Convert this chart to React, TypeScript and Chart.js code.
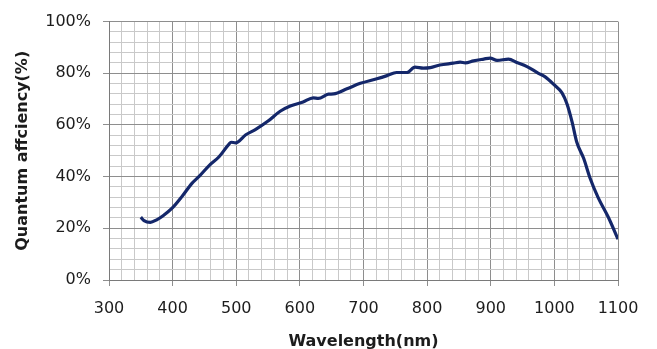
import React, { useEffect, useRef } from "react";
import { Chart, registerables } from "chart.js";

Chart.register(...registerables);

const wavelengths = [
  350, 355, 365, 375, 385, 400, 415, 430, 442, 457, 473, 488, 492, 499, 515, 530,
  550, 569, 585, 605, 621, 629, 645, 653, 674, 695, 721, 737, 752, 768, 781, 794,
  805, 820, 841, 852, 860, 873, 889, 899, 910, 928, 941, 957, 975, 985, 999, 1012,
  1020, 1028, 1035, 1046, 1056, 1069, 1085, 1100,
];
const efficiency = [
  24.3, 23.0, 22.3, 23.3, 24.9, 28.0, 32.4, 37.3, 40.2, 44.2, 47.7, 52.4, 53.3, 53.1, 56.2, 58.2,
  61.5, 65.3, 67.3, 68.9, 70.5, 70.3, 71.9, 72.0, 74.0, 76.1, 77.9, 79.1, 80.3, 80.3, 82.4, 82.0,
  82.2, 83.2, 83.9, 84.3, 84.0, 84.8, 85.5, 85.9, 85.0, 85.5, 84.2, 82.6, 80.0, 78.7, 75.7, 72.4,
  68.0, 61.0, 53.5, 47.1, 39.5, 31.8, 24.2, 15.8,
];
const xMin = 300;
const xMax = 1100;
const xMajor = 100;
const xMinor = 20;
const yMin = 0;
const yMax = 100;
const yMajor = 20;
const yMinor = 4;
const xTitle = "Wavelength(nm)";
const yTitle = "Quantum affciency(%)";

const MAJOR = "#8e8e8e";
const MINOR = "#c9c9c9";
const TEXT = "#1c1c1c";
const FONT = "'DejaVu Sans', sans-serif";

export default function App() {
  const ref = useRef<HTMLCanvasElement | null>(null);

  useEffect(() => {
    document.body.style.margin = "0";
    const canvas = ref.current;
    if (!canvas) return;
    const points = wavelengths.map((w, i) => ({ x: w, y: efficiency[i] }));
    const chart = new Chart(canvas, {
      type: "line",
      data: {
        datasets: [
          {
            data: points,
            borderColor: "#14276a",
            borderWidth: 3.2,
            pointRadius: 0,
            fill: false,
            cubicInterpolationMode: "monotone",
          },
        ],
      },
      options: {
        animation: false,
        responsive: false,
        devicePixelRatio: 1,
        layout: { padding: { top: 18, right: 39, left: 0, bottom: 0 } },
        plugins: { legend: { display: false }, tooltip: { enabled: false } },
        scales: {
          x: {
            type: "linear",
            min: xMin,
            max: xMax,
            afterFit: (s: any) => {
              s.height = 69;
            },
            border: { display: true, color: "#7a7a7a", width: 1 },
            grid: {
              color: (c: any) => (c.tick && c.tick.value % xMajor === 0 ? MAJOR : MINOR),
              tickColor: (c: any) =>
                c.tick && c.tick.value % xMajor === 0 ? MAJOR : "rgba(0,0,0,0)",
              tickLength: 6,
              lineWidth: 1,
            },
            ticks: {
              stepSize: xMinor,
              autoSkip: false,
              maxRotation: 0,
              padding: 13,
              color: TEXT,
              font: { family: FONT, size: 16 },
              callback: (v: any) => (Number(v) % xMajor === 0 ? String(v) : ""),
            },
            title: {
              display: true,
              text: xTitle,
              color: TEXT,
              font: { family: FONT, size: 16, weight: "bold", lineHeight: 1 },
              padding: { top: 0, bottom: -1 },
            },
          },
          y: {
            type: "linear",
            min: yMin,
            max: yMax,
            afterFit: (s: any) => {
              s.width = 109;
            },
            border: { display: true, color: "#7a7a7a", width: 1 },
            grid: {
              color: (c: any) => (c.tick && c.tick.value % yMajor === 0 ? MAJOR : MINOR),
              tickColor: (c: any) =>
                c.tick && c.tick.value % yMajor === 0 ? MAJOR : "rgba(0,0,0,0)",
              tickLength: 6,
              lineWidth: 1,
            },
            ticks: {
              stepSize: yMinor,
              autoSkip: false,
              padding: 12,
              color: TEXT,
              font: { family: FONT, size: 16 },
              callback: (v: any) => (Number(v) % yMajor === 0 ? v + "%" : ""),
            },
            title: {
              display: true,
              text: yTitle,
              color: TEXT,
              font: { family: FONT, size: 16, weight: "bold", lineHeight: 1.2 },
              padding: { top: 13, bottom: 0 },
            },
          },
        },
      },
    });
    return () => chart.destroy();
  }, []);

  return (
    <div style={{ width: 657, height: 349, background: "#fff" }}>
      <canvas ref={ref} width={657} height={349} style={{ display: "block" }} />
    </div>
  );
}
